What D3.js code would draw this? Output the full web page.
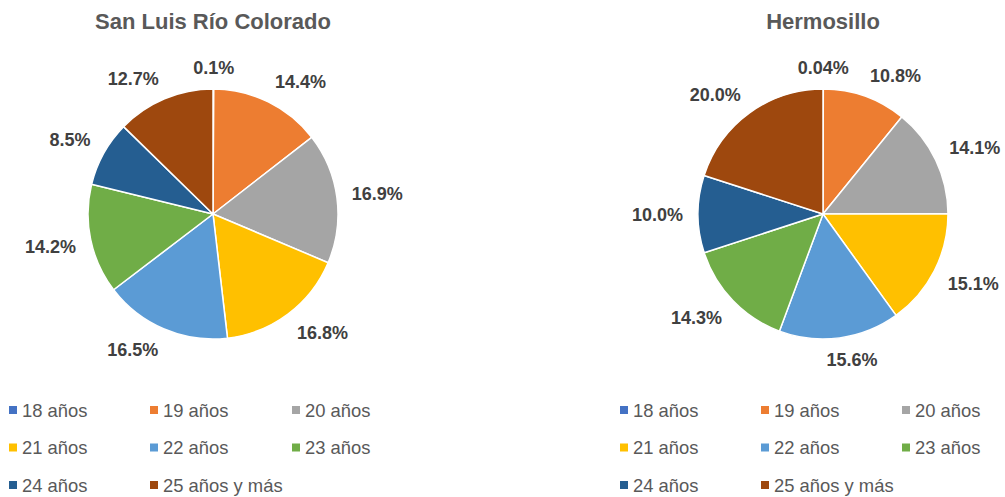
<!DOCTYPE html>
<html><head><meta charset="utf-8">
<script src="https://cdn.jsdelivr.net/npm/d3@7"></script>
<style>
html,body{margin:0;padding:0;background:#fff;}
svg{display:block;font-family:"Liberation Sans",Arial,sans-serif;}
</style></head>
<body>
<svg id="chart" width="1005" height="497"></svg>
<script>
const categories = ["18 años","19 años","20 años","21 años","22 años","23 años","24 años","25 años y más"];
const colors = ["#4472C4","#ED7D31","#A5A5A5","#FFC000","#5B9BD5","#70AD47","#255E91","#9E480E"];
const titles = ["San Luis Río Colorado","Hermosillo"];
const sanLuisValues = [0.1,14.4,16.9,16.8,16.5,14.2,8.5,12.7];
const hermosilloValues = [0.04,10.8,14.1,15.1,15.6,14.3,10.0,20.0];
const sanLuisLabels = ["0.1%","14.4%","16.9%","16.8%","16.5%","14.2%","8.5%","12.7%"];
const hermosilloLabels = ["0.04%","10.8%","14.1%","15.1%","15.6%","14.3%","10.0%","20.0%"];

const svg = d3.select("#chart");
const panels = [
  {title: titles[0], values: sanLuisValues, labels: sanLuisLabels, cx: 213, legendX: [9,150,292]},
  {title: titles[1], values: hermosilloValues, labels: hermosilloLabels, cx: 823, legendX: [620,761,902]}
];
const cy = 214, R = 125, gap = 15, capH = 12.8, k = 3;
const clamp = v => Math.max(-1, Math.min(1, v));

const pie = d3.pie().sort(null).value(d => d.v);
const arc = d3.arc().innerRadius(0).outerRadius(R);

panels.forEach(p => {
  const g = svg.append("g");
  g.append("text").attr("x", p.cx).attr("y", 29).attr("text-anchor","middle")
    .attr("font-size", 22).attr("font-weight","bold").attr("fill","#595959").text(p.title);
  const data = categories.map((c,i) => ({c, v: p.values[i], color: colors[i], label: p.labels[i]}));
  const arcs = pie(data);
  const pg = g.append("g").attr("transform", `translate(${p.cx},${cy})`);
  pg.selectAll("path").data(arcs).join("path")
    .attr("d", arc).attr("fill", d => d.data.color)
    .attr("stroke","#fff").attr("stroke-width",1.5).attr("stroke-linejoin","round");
  pg.selectAll("text.lbl").data(arcs).join("text").attr("class","lbl")
    .attr("font-size", 18).attr("font-weight","bold").attr("fill","#404040")
    .attr("text-anchor","middle").text(d => d.data.label)
    .each(function(d){
      const w = this.getComputedTextLength();
      const a = (d.startAngle + d.endAngle)/2;
      const s = Math.sin(a), c = Math.cos(a);
      const px = s*(R+gap) + (w/2)*clamp(k*s);
      const py = -c*(R+gap) - (capH/2)*clamp(k*c);
      d3.select(this).attr("x", px).attr("y", py + capH/2);
    });
  const lg = g.append("g");
  const rowsY = [410, 447.5, 485];
  data.forEach((d,i) => {
    const col = i % 3, row = Math.floor(i/3);
    const x = p.legendX[col], y = rowsY[row];
    lg.append("rect").attr("x", x).attr("y", y-4).attr("width", 8).attr("height", 8).attr("fill", d.color);
    lg.append("text").attr("x", x+13).attr("y", y+6.5).attr("font-size", 18.4).attr("fill","#595959").text(d.c);
  });
});
</script>
</body></html>
